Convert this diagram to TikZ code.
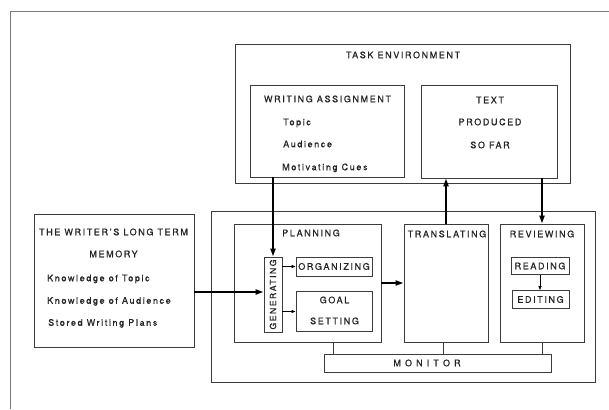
\documentclass[tikz,border=0pt]{standalone}
\usepackage{fontspec}
\setmainfont{TeX Gyre Heros}[LetterSpace=18, FakeBold=0.8]
\usepackage{tikz}
\usetikzlibrary{arrows.meta,positioning}
\definecolor{inkgray}{RGB}{35,35,35}
\definecolor{linegray}{RGB}{60,60,60}
\definecolor{framegray}{RGB}{125,125,125}

\tikzset{
    box/.style={draw=linegray, line width=0.9pt, rectangle, inner sep=0pt},
    lbl/.style={text=inkgray, font=\fontsize{9}{11}\selectfont, inner sep=0pt, text height=6.5pt, text depth=0pt},
    boxlbl/.style={box, lbl},
    bigarrow/.style={draw=black, line width=2pt, -{Triangle[length=8pt,width=5pt]}},
    smallarrow/.style={draw=black, line width=0.8pt, -{Triangle[length=4pt,width=3pt]}},
    link/.style={draw=linegray, line width=0.9pt}
}

\begin{document}
\begin{tikzpicture}[x=1pt, y=-1pt]
    \useasboundingbox (0,0) rectangle (609,409);
    % Page frame
    \draw[framegray, line width=1pt] (609,12) -- (10,12) -- (10,409);

    % Task environment
    \node[box, minimum width=335pt, minimum height=139pt] (taskenv) at (402.5,113.5) {};
    \node[lbl] (taskenv-title) at (403,55) {TASK ENVIRONMENT};
    \node[box, minimum width=154pt, minimum height=92pt] (assign) at (327,131) {};
    \node[lbl] (assign-title) at (327.5,99) {WRITING ASSIGNMENT};
    \node[lbl, anchor=west] (assign-topic) at (283,122) {Topic};
    \node[lbl, anchor=west] (assign-aud) at (283,144) {Audience};
    \node[lbl, anchor=west] (assign-cues) at (282,167) {Motivating Cues};
    \node[box, minimum width=136pt, minimum height=93pt] (sofar) at (489,131.5) {};
    \node[lbl] (sofar-a) at (490,100) {TEXT};
    \node[lbl] (sofar-b) at (490,122) {PRODUCED};
    \node[lbl] (sofar-c) at (490,145) {SO FAR};

    % Long term memory
    \node[box, minimum width=160pt, minimum height=133pt] (memory) at (114,280.5) {};
    \node[lbl] (memory-a) at (113.5,232) {THE WRITER'S LONG TERM};
    \node[lbl] (memory-b) at (113.5,254) {MEMORY};
    \node[lbl, anchor=west] (memory-topic) at (47,278) {Knowledge of Topic};
    \node[lbl, anchor=west] (memory-aud) at (47,300.5) {Knowledge of Audience};
    \node[lbl, anchor=west] (memory-plans) at (48,322.5) {Stored Writing Plans};

    % Writing processes
    \node[box, minimum width=384pt, minimum height=171pt] (process) at (403,296.5) {};
    \node[box, minimum width=147pt, minimum height=118pt] (planning) at (307.5,283) {};
    \node[lbl] (planning-title) at (311,233) {PLANNING};
    \node[box, minimum width=18pt, minimum height=75pt, text=inkgray, font=\fontsize{8.6}{10}\selectfont] (generating) at (273,294.5) {\rotatebox{90}{GENERATING}};
    \node[boxlbl, minimum width=76pt, minimum height=19pt] (organizing) at (334,266.5) {ORGANIZING};
    \node[box, minimum width=76pt, minimum height=40pt] (goalset) at (334,311.5) {};
    \node[lbl] (goalset-a) at (334.5,300) {GOAL};
    \node[lbl] (goalset-b) at (334.5,321) {SETTING};
    \node[box, minimum width=84pt, minimum height=118pt] (translating) at (446,283) {};
    \node[lbl] (translating-title) at (447,234) {TRANSLATING};
    \node[box, minimum width=84pt, minimum height=118pt] (reviewing) at (542,283) {};
    \node[lbl] (reviewing-title) at (542,234) {REVIEWING};
    \node[boxlbl, minimum width=58pt, minimum height=17pt] (reading) at (540,266) {READING};
    \node[boxlbl, minimum width=57pt, minimum height=18pt] (editing) at (540.5,299.5) {EDITING};
    \node[box, minimum width=227pt, minimum height=18pt] (monitor) at (437.5,363) {};
    \node[lbl] (monitor-title) at (427,363) {M O N I T O R};

    % Arrows
    \draw[bigarrow] (assign.south -| generating.north) -- (generating.north);
    \draw[bigarrow] (memory.east |- 0,292) -- (generating.west |- 0,292);
    \draw[bigarrow] (translating.north) -- (translating.north |- sofar.south);
    \draw[bigarrow] (reviewing.north |- sofar.south) -- (reviewing.north);
    \draw[bigarrow] (planning.east) -- (translating.west);
    \draw[smallarrow] (generating.east |- organizing.west) -- (organizing.west);
    \draw[smallarrow] (generating.east |- goalset.west) -- (goalset.west);
    \draw[smallarrow] (reading.south) -- (reading.south |- editing.north);

    % Monitor links
    \draw[link] ([xshift=25.5pt]planning.south) -- ([xshift=25.5pt]planning.south |- monitor.north);
    \draw[link] ([xshift=-3pt]translating.south) -- ([xshift=-3pt]translating.south |- monitor.north);
    \draw[link] (reviewing.south) -- (reviewing.south |- monitor.north);
\end{tikzpicture}
\end{document}
